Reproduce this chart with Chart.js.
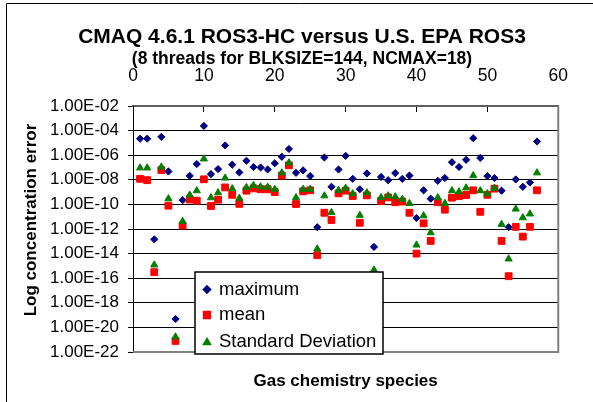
<!DOCTYPE html>
<html><head><meta charset="utf-8">
<script src="https://cdn.jsdelivr.net/npm/chart.js@4.4.1/dist/chart.umd.min.js"></script>
<style>html,body{margin:0;padding:0;background:#fff;}#wrap{width:593px;height:402px;}</style>
</head><body><div id="wrap"><canvas id="c" width="593" height="402"></canvas></div>
<script>
const titleText = 'CMAQ 4.6.1 ROS3-HC versus U.S. EPA ROS3';
const subtitleText = '(8 threads for BLKSIZE=144, NCMAX=18)';
const xTitle = 'Gas chemistry species';
const yTitle = 'Log concentration error';
const seriesNames = ['maximum', 'mean', 'Standard Deviation'];

const species = [1,2,3,4,5,6,7,8,9,10,11,12,13,14,15,16,17,18,19,20,21,22,23,24,25,26,27,28,29,30,31,32,33,34,35,36,37,38,39,40,41,42,43,44,45,46,47,48,49,50,51,52,53,54,55,56,57];

const maximum = [2.2e-5,2.2e-5,1.45e-13,3.1e-5,4.8e-8,4.8e-20,2.2e-10,2.1e-8,1.9e-7,2.4e-4,
  2.9e-8,7.4e-8,6.2e-6,1.7e-7,4.0e-8,3.5e-7,1.1e-7,1.0e-7,6.9e-8,2.2e-7,
  7.4e-7,3.2e-6,3.7e-8,5.8e-8,2.0e-8,1.4e-12,6.5e-7,2.7e-9,6.9e-8,8.9e-7,
  1.2e-8,1.7e-9,3.3e-8,3.5e-14,1.7e-8,9.3e-9,3.5e-8,1.2e-8,2.2e-8,7.8e-12,
  1.4e-9,2.9e-10,8.3e-9,1.4e-8,2.7e-7,1.1e-7,4.2e-7,2.4e-5,6.0e-7,2.0e-8,
  1.4e-8,1.3e-9,1.4e-12,1.07e-8,2.7e-9,6.0e-9,1.3e-5];

const mean = [1.2e-8,9.3e-9,3.1e-16,6.2e-8,7.8e-11,7.9e-22,1.9e-12,2.5e-10,2.0e-10,1.1e-8,
  7.4e-11,2.4e-10,2.4e-9,6.0e-10,1.1e-10,1.3e-9,2.0e-9,1.7e-9,1.7e-9,1.0e-9,
  2.2e-8,1.5e-7,1.07e-10,1.15e-9,1.4e-9,7.4e-15,2.1e-11,5.4e-12,7.9e-10,1.3e-9,
  4.8e-10,3.2e-12,5.4e-10,1.35e-16,1.9e-10,3.7e-10,1.5e-10,1.7e-10,2.1e-11,1.0e-14,
  2.9e-12,1.07e-13,1.5e-10,3.7e-11,3.5e-10,4.8e-10,5.8e-10,1.4e-9,2.5e-11,6.0e-10,
  1.9e-9,1.07e-13,1.45e-16,1.5e-12,2.4e-13,1.5e-12,1.4e-9];

const stdDev = [9.3e-8,9.3e-8,1.2e-15,1.1e-7,2.9e-10,1.7e-21,4.2e-12,5.8e-10,1.3e-9,5.0e-7,
  3.5e-10,8.9e-10,1.4e-8,1.9e-9,3.2e-10,2.4e-9,3.5e-9,2.7e-9,2.5e-9,1.7e-9,
  3.7e-8,2.4e-7,3.5e-10,1.7e-9,1.7e-9,2.4e-14,5.0e-10,2.2e-11,1.4e-9,2.1e-9,
  7.4e-10,1.3e-11,8.9e-10,4.7e-16,3.7e-10,5.0e-10,4.2e-10,2.6e-10,1.2e-10,5.0e-14,
  1.2e-11,5.0e-13,3.5e-10,1.2e-10,1.3e-9,1.07e-9,2.2e-9,2.2e-8,1.3e-9,7.4e-10,
  2.1e-9,2.4e-12,3.7e-15,4.2e-11,8.3e-12,1.7e-11,3.7e-8];

const xTicks = [0,10,20,30,40,50,60];
const yTickValues = [1e-22,1e-20,1e-18,1e-16,1e-14,1e-12,1e-10,1e-8,1e-6,1e-4,1e-2];
const yTickLabels = ['1.00E-22','1.00E-20','1.00E-18','1.00E-16','1.00E-14','1.00E-12','1.00E-10','1.00E-08','1.00E-06','1.00E-04','1.00E-02'];

const FONT = "'Liberation Sans', Arial, sans-serif";
const toPts = arr => species.map((s, i) => ({x: s, y: arr[i]}));

const decor = {
  id: 'decor',
  beforeDraw(chart) {
    const s = chart.scales.y;
    if (s && !s._shifted) {
      const orig = s.drawTitle;
      s.drawTitle = function () { this.ctx.save(); this.ctx.translate(0, -9); orig.call(this); this.ctx.restore(); };
      s._shifted = true;
    }
  },
  beforeDatasetsDraw(chart) {
    const {ctx, chartArea: a} = chart;
    ctx.save();
    ctx.strokeStyle = '#808080'; ctx.lineWidth = 2;
    ctx.beginPath();
    ctx.moveTo(a.right, a.top); ctx.lineTo(a.right, a.bottom); ctx.lineTo(a.left, a.bottom);
    ctx.stroke();
    ctx.restore();
  },
  afterDatasetsDraw(chart) {
    const {ctx, chartArea: a} = chart;
    const bx = a.left + 62, by = a.top + 166, bw = 188, bh = 82;
    ctx.save();
    ctx.fillStyle = '#fff';
    ctx.fillRect(bx, by, bw, bh);
    ctx.strokeStyle = '#000'; ctx.lineWidth = 1.5;
    ctx.strokeRect(bx, by, bw, bh);
    const rows = [17.5, 43, 69.5];
    chart.data.datasets.forEach((ds, i) => {
      const y = by + rows[i];
      ctx.fillStyle = ds.backgroundColor; ctx.strokeStyle = ds.borderColor;
      Chart.helpers.drawPoint(ctx, {pointStyle: ds.pointStyle, radius: ds.pointRadius, rotation: 0, borderWidth: ds.borderWidth}, bx + 12, y + (ds.pointStyle === 'triangle' ? 1 : 0));
      ctx.fillStyle = '#000';
      ctx.font = '18.5px ' + FONT;
      ctx.textBaseline = 'middle'; ctx.textAlign = 'left';
      ctx.fillText(ds.label, bx + 24, y);
    });
    ctx.restore();
  },
  afterDraw(chart) {
    const ctx = chart.ctx;
    ctx.save();
    ctx.strokeStyle = '#000'; ctx.lineWidth = 1;
    ctx.beginPath();
    ctx.moveTo(6.5, 402); ctx.lineTo(6.5, 3.5); ctx.lineTo(593, 3.5);
    ctx.stroke();
    ctx.restore();
  }
};

new Chart(document.getElementById('c'), {
  type: 'scatter',
  data: {
    datasets: [
      {label: seriesNames[0], data: toPts(maximum), pointStyle: 'rectRot', pointRadius: 3.6, borderWidth: 1, backgroundColor: '#000080', borderColor: '#000080', order: 2},
      {label: seriesNames[1], data: toPts(mean), pointStyle: 'rect', pointRadius: 4.8, borderWidth: 1, backgroundColor: '#ff0000', borderColor: '#ff0000', order: 1},
      {label: seriesNames[2], data: toPts(stdDev), pointStyle: 'triangle', pointRadius: 4.1, borderWidth: 1, backgroundColor: '#008000', borderColor: '#008000', order: 0}
    ]
  },
  options: {
    responsive: false,
    animation: false,
    devicePixelRatio: 1,
    layout: {padding: {left: 27, right: 16, top: 0, bottom: 0}},
    plugins: {
      legend: {display: false},
      tooltip: {enabled: false},
      title: {display: true, text: titleText, color: '#000', font: {family: FONT, size: 21, weight: 'bold', lineHeight: 0.8}, padding: {top: 28.5, bottom: 0}},
      subtitle: {display: true, text: subtitleText, color: '#000', font: {family: FONT, size: 17.5, weight: 'bold', lineHeight: 0.8}, padding: {top: 6.5, bottom: 0}}
    },
    scales: {
      x: {
        type: 'linear', position: 'top', min: 0, max: 60,
        afterBuildTicks: s => { s.ticks = xTicks.map(v => ({value: v})); },
        ticks: {color: '#000', font: {family: FONT, size: 17.5}, padding: 25, autoSkip: false, maxRotation: 0, callback: v => String(v)},
        grid: {display: true, drawOnChartArea: false, drawTicks: true, tickLength: -6, color: '#000', lineWidth: 1},
        border: {display: true, color: '#606060', width: 2},
        afterFit: s => { s.height = 40.2; }
      },
      x2: {
        type: 'linear', position: 'bottom', min: 0, max: 60,
        ticks: {display: false}, grid: {display: false}, border: {display: false},
        title: {display: true, text: xTitle, color: '#000', font: {family: FONT, size: 17, weight: 'bold'}, padding: {top: 0, bottom: 10}},
        afterFit: s => { s.height = 50; }
      },
      y: {
        type: 'logarithmic', position: 'left', min: 1e-22, max: 1e-2,
        afterBuildTicks: s => { s.ticks = yTickValues.map(v => ({value: v})); },
        ticks: {color: '#000', font: {family: FONT, size: 17}, padding: 9, autoSkip: false,
          callback: v => yTickLabels[yTickValues.indexOf(v)]},
        grid: {color: '#000', lineWidth: 1, drawTicks: true, tickLength: 5},
        border: {display: true, color: '#000', width: 1},
        title: {display: true, text: yTitle, color: '#000', font: {family: FONT, size: 17, weight: 'bold'}, padding: {top: -6, bottom: 0}},
        afterFit: s => { s.width = 106; }
      }
    }
  },
  plugins: [decor]
});
</script>
</body></html>
